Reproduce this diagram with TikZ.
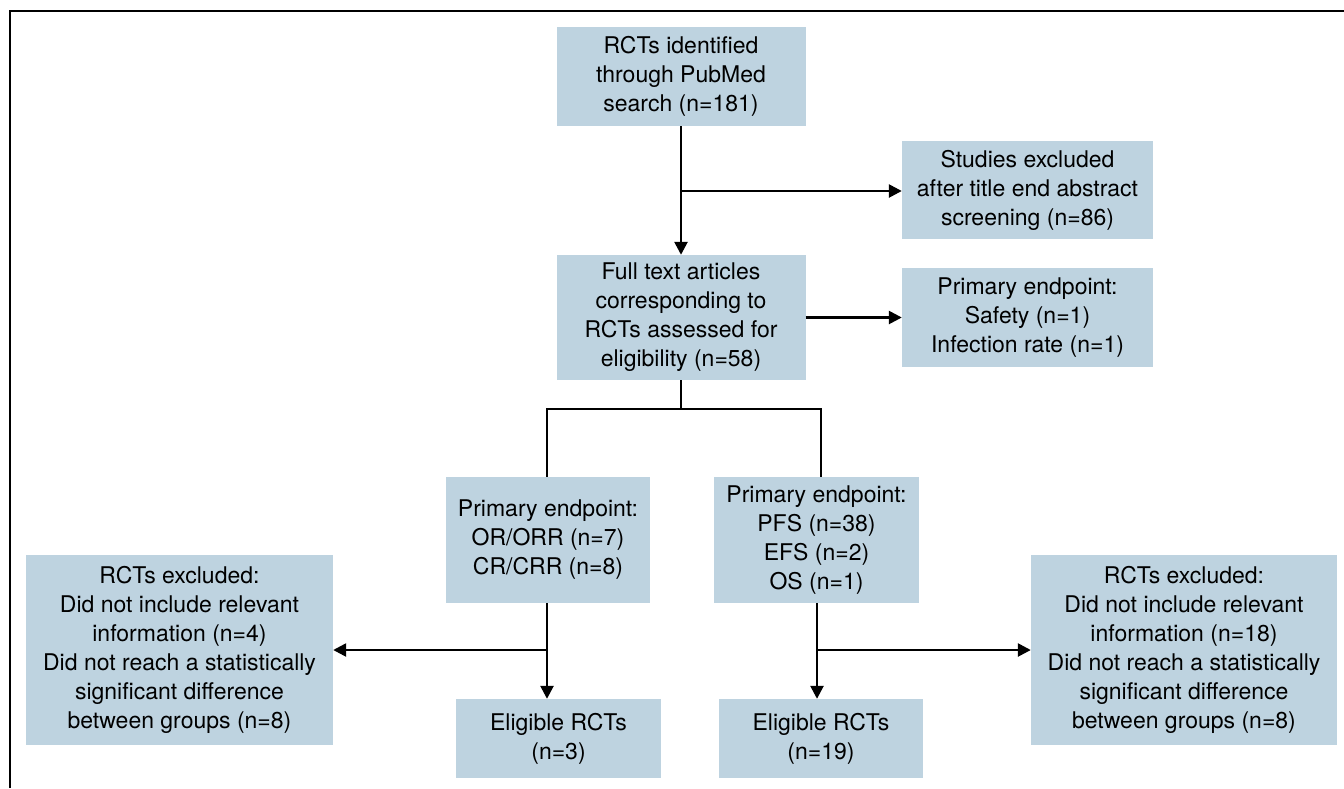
\documentclass[tikz,border=0pt]{standalone}
\usepackage{fontspec}
\setmainfont{TeX Gyre Heros}
\usetikzlibrary{arrows.meta,calc}
\definecolor{boxblue}{RGB}{190,211,224}
\tikzset{
  box/.style={fill=boxblue, draw=none, align=center, inner sep=0pt,
    font=\fontsize{23}{29}\selectfont},
  conn/.style={line width=2.5pt, black},
  arr/.style={conn, -{Triangle[length=13pt,width=13pt]}},
}
\begin{document}
\begin{tikzpicture}[x=1pt,y=-1pt]
\useasboundingbox (0,0) rectangle (1344,788);
% frame
\draw[line width=2.5pt] (10,788) -- (10,11) -- (1344,11);

\node[box, minimum width=249pt, minimum height=99pt] (b1) at (681,76.5)
  {RCTs identified\\through PubMed\\search (n=181)};
\node[box, minimum width=251pt, minimum height=98pt] (b2) at (1027.5,190)
  {Studies excluded\\after title end abstract\\screening (n=86)};
\node[box, minimum width=249pt, minimum height=125pt] (b3) at (681,317.5)
  {Full text articles\\corresponding to\\RCTs assessed for\\eligibility (n=58)};
\node[box, minimum width=251pt, minimum height=99pt] (b4) at (1027.5,317.5)
  {Primary endpoint:\\Safety (n=1)\\Infection rate (n=1)};
\node[box, minimum width=204pt, minimum height=126pt] (b5) at (548,540)
  {Primary endpoint:\\OR/ORR (n=7)\\CR/CRR (n=8)};
\node[box, minimum width=205pt, minimum height=126pt] (b6) at (816.5,540)
  {Primary endpoint:\\PFS (n=38)\\EFS (n=2)\\OS (n=1)};
\node[box, minimum width=307pt, minimum height=190pt] (b7) at (179.5,650)
  {RCTs excluded:\\Did not include relevant\\information (n=4)\\Did not reach a statistically\\significant difference\\between groups (n=8)};
\node[box, minimum width=205pt, minimum height=79pt] (b8) at (558.5,738.5)
  {Eligible RCTs\\(n=3)};
\node[box, minimum width=204pt, minimum height=79pt] (b9) at (821,738.5)
  {Eligible RCTs\\(n=19)};
\node[box, minimum width=306pt, minimum height=190pt] (b10) at (1184,650)
  {RCTs excluded:\\Did not include relevant\\information (n=18)\\Did not reach a statistically\\significant difference\\between groups (n=8)};

% coordinates
\coordinate (j1) at (681,191);
\coordinate (sL) at (547,409);
\coordinate (sR) at (821,409);
\coordinate (s) at (b3.south |- sL);
\coordinate (t5) at (547,603);
\coordinate (j5) at (547,650);
\coordinate (t6) at (817,603);
\coordinate (j6) at (817,650);

\draw[arr] (b1.south) -- (b3.north);
\draw[arr] (j1) -- (j1 -| b2.west);
\draw[arr] (b3.east) -- (b4.west);
\draw[conn] (b3.south) -- (s);
\draw[conn] (sL |- b5.north) -- (sL) -- (sR) -- (sR |- b6.north);
\draw[arr] (t5) -- (t5 |- b8.north);
\draw[arr] (j5) -- (j5 -| b7.east);
\draw[arr] (t6) -- (t6 |- b9.north);
\draw[arr] (j6) -- (j6 -| b10.west);
\end{tikzpicture}
\end{document}
